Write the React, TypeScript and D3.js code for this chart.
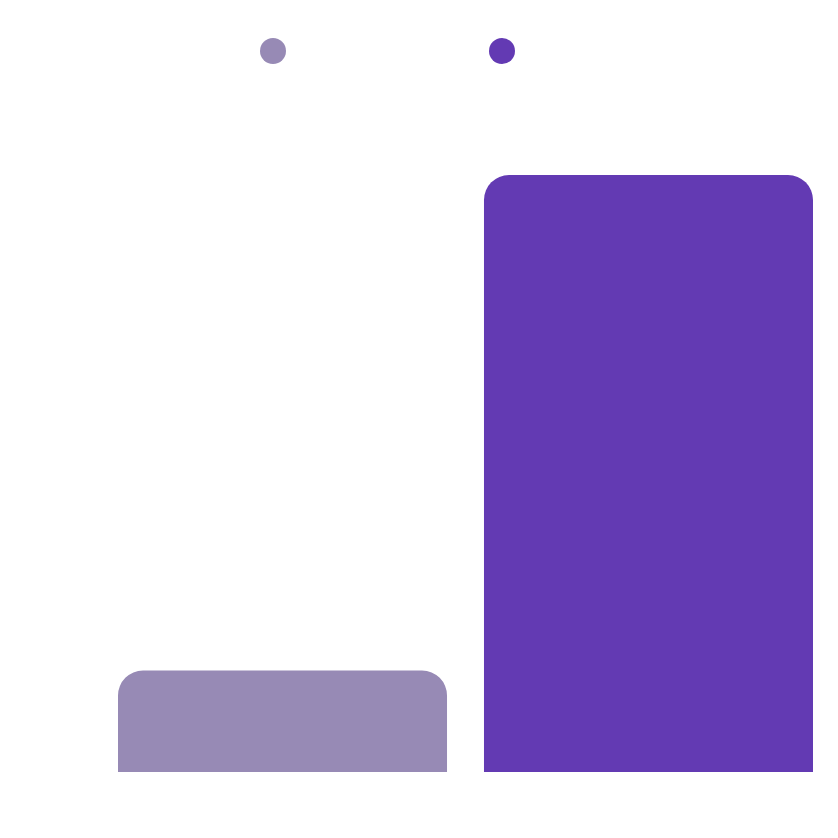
import React from "react";
import * as d3 from "d3";

const categories = ["A", "B"];
const values = [17, 100];
const colors = ["#978ab5", "#633ab3"];

const W = 838;
const H = 838;
const margin = { top: 175, right: 25, bottom: 66, left: 118 };
const R = 25;

function topRoundedRect(x: number, y: number, w: number, h: number, r: number) {
  const rr = Math.min(r, w / 2, h);
  const p = d3.path();
  p.moveTo(x, y + h);
  p.lineTo(x, y + rr);
  p.arcTo(x, y, x + rr, y, rr);
  p.lineTo(x + w - rr, y);
  p.arcTo(x + w, y, x + w, y + rr, rr);
  p.lineTo(x + w, y + h);
  p.closePath();
  return p.toString();
}

export default function App() {
  const x = d3
    .scaleBand<string>()
    .domain(categories)
    .range([margin.left, W - margin.right])
    .paddingInner(0.101)
    .paddingOuter(0);
  const y = d3
    .scaleLinear()
    .domain([0, d3.max(values) as number])
    .range([H - margin.bottom, margin.top]);

  const legendX = [273, 502];

  return (
    <svg
      width={W}
      height={H}
      style={{ position: "absolute", left: 0, top: 0, background: "#fff" }}
    >
      {categories.map((c, i) => (
        <circle key={"l" + c} cx={legendX[i]} cy={51} r={13} fill={colors[i]} />
      ))}
      {categories.map((c, i) => {
        const bx = x(c) as number;
        const by = y(values[i]);
        return (
          <path
            key={c}
            d={topRoundedRect(bx, by, x.bandwidth(), y(0) - by, R)}
            fill={colors[i]}
          />
        );
      })}
    </svg>
  );
}
